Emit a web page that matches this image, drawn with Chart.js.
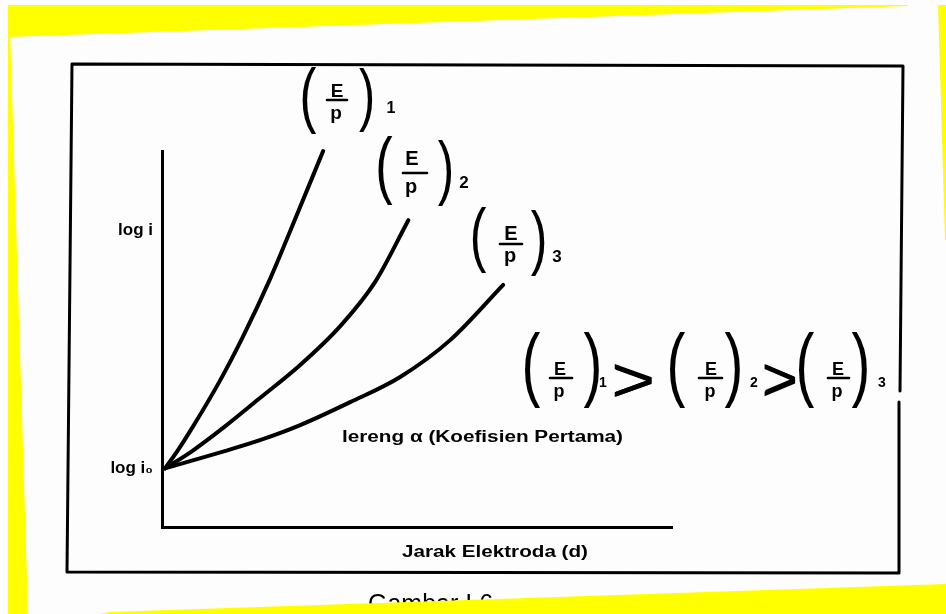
<!DOCTYPE html>
<html><head><meta charset="utf-8">
<script src="https://cdn.jsdelivr.net/npm/chart.js@4.4.1/dist/chart.umd.min.js"></script>
<style>html,body{margin:0;padding:0;background:#fdfdfd;overflow:hidden}canvas{display:block}</style>
</head><body>
<canvas id="c" width="946" height="614"></canvas>
<script>
// ---- data (x = electrode distance, y = log i, arbitrary units 0..100) ----
const curve1X = [0.6, 3.1, 5.7, 11.4, 15.9, 21.2, 25.1, 31.6];
const curve1Y = [15.6, 20.4, 25.9, 39.0, 50.7, 66.0, 78.6, 100];
const curve2X = [0.6, 5.7, 12.3, 19.2, 27.1, 35.0, 41.9, 48.3];
const curve2Y = [15.6, 20.0, 26.7, 34.3, 43.1, 53.5, 65.4, 81.6];
const curve3X = [0.6, 5.7, 12.3, 19.2, 27.1, 36.9, 46.7, 56.5, 66.9];
const curve3Y = [15.6, 17.6, 20.2, 23.1, 27.1, 33.2, 39.9, 49.7, 64.4];
const seriesNames = ['(E/p)1', '(E/p)2', '(E/p)3'];
const seriesSubs = ['1', '2', '3'];
const fracNum = 'E';
const fracDen = 'p';
const yTickValues = [15.6, 79];
const yTickLabels = ['log i\u2080', 'log i'];
const xAxisTitle = 'Jarak Elektroda (d)';
const slopeNote = 'lereng \u03b1 (Koefisien Pertama)';
const captionText = 'Gambar I.6';

const FONT = '"Liberation Sans", Arial, "DejaVu Sans", sans-serif';

function pts(xs, ys) { return xs.map((x, i) => ({ x: x, y: ys[i] })); }

function paren(ctx, ch, cx, top, bottom, sx) {
  ctx.save();
  ctx.textAlign = 'center';
  ctx.textBaseline = 'alphabetic';
  ctx.font = '100px ' + FONT;
  const m = ctx.measureText(ch);
  const asc = m.actualBoundingBoxAscent, desc = m.actualBoundingBoxDescent;
  const size = 100 * (bottom - top) / (asc + desc);
  ctx.font = size + 'px ' + FONT;
  const m2 = ctx.measureText(ch);
  const base = top + m2.actualBoundingBoxAscent;
  ctx.translate(cx, base);
  ctx.scale(sx, 1);
  ctx.fillText(ch, 0, 0);
  ctx.restore();
}
function txt(ctx, t, cx, base, size, weight) {
  ctx.font = (weight || 'bold') + ' ' + size + 'px ' + FONT;
  ctx.textAlign = 'center';
  ctx.textBaseline = 'alphabetic';
  ctx.fillText(t, cx, base);
}
function fitText(ctx, t, x0, x1, yMid, size) {
  ctx.save();
  ctx.textAlign = 'left';
  ctx.textBaseline = 'middle';
  ctx.font = 'bold ' + size + 'px ' + FONT;
  const w = ctx.measureText(t).width;
  ctx.translate(x0, yMid);
  ctx.scale((x1 - x0) / w, 1);
  ctx.fillText(t, 0, 0);
  ctx.restore();
}
function fitBox(ctx, t, x0, y0, x1, y1, font) {
  ctx.save();
  ctx.textAlign = 'left';
  ctx.textBaseline = 'alphabetic';
  ctx.font = font;
  const m = ctx.measureText(t);
  const w = m.actualBoundingBoxLeft + m.actualBoundingBoxRight;
  const h = m.actualBoundingBoxAscent + m.actualBoundingBoxDescent;
  ctx.translate(x0, y0);
  ctx.scale((x1 - x0) / w, (y1 - y0) / h);
  ctx.fillText(t, m.actualBoundingBoxLeft, m.actualBoundingBoxAscent);
  ctx.restore();
}
function bar(ctx, x0, x1, y, w) {
  ctx.beginPath(); ctx.lineWidth = w; ctx.moveTo(x0, y); ctx.lineTo(x1, y); ctx.stroke();
}
// fraction group: parens, E over p, subscript
function fracGroup(ctx, g) {
  paren(ctx, '(', g.lp, g.top, g.bot, 0.7);
  paren(ctx, ')', g.rp, g.top2 || g.top, g.bot2 || g.bot, 0.7);
  txt(ctx, fracNum, g.cx, g.eBase, g.size);
  bar(ctx, g.bx0, g.bx1, g.by, 2.6);
  txt(ctx, fracDen, g.cx - 1, g.pBase, g.size);
  txt(ctx, g.sub, g.sx, g.sBase, g.subSize);
}

const decor = {
  id: 'decor',
  beforeDraw(chart) {
    const ctx = chart.ctx;
    ctx.save();
    ctx.fillStyle = '#fdfdfd';
    ctx.fillRect(0, 0, chart.width, chart.height);
    ctx.restore();
  },
  afterDraw(chart) {
    const ctx = chart.ctx;
    ctx.save();
    ctx.strokeStyle = '#000';
    ctx.fillStyle = '#000';
    ctx.lineCap = 'round';
    ctx.lineJoin = 'round';
    // outer frame of the scanned figure
    ctx.lineWidth = 3;
    ctx.beginPath();
    ctx.moveTo(899, 402); ctx.lineTo(899, 573); ctx.lineTo(67, 572); ctx.lineTo(72, 64);
    ctx.lineTo(903, 66); ctx.lineTo(900, 391);
    ctx.stroke();

    // curve labels
    fracGroup(ctx, { lp: 308, rp: 367, top: 67, bot: 135, top2: 68, bot2: 133, cx: 337, eBase: 97, pBase: 119,
      bx0: 327, bx1: 347, by: 100, size: 19, sub: seriesSubs[0], sx: 391, sBase: 113, subSize: 16 });
    fracGroup(ctx, { lp: 384, rp: 446, top: 136, bot: 206, top2: 140, bot2: 206, cx: 412, eBase: 165, pBase: 193,
      bx0: 403, bx1: 427, by: 173, size: 20, sub: seriesSubs[1], sx: 464, sBase: 188, subSize: 17 });
    fracGroup(ctx, { lp: 478, rp: 539, top: 207, bot: 274, top2: 210, bot2: 277, cx: 511, eBase: 240, pBase: 262,
      bx0: 500, bx1: 522, by: 244, size: 20, sub: seriesSubs[2], sx: 557, sBase: 262, subSize: 17 });

    // inequality (E/p)1 > (E/p)2 > (E/p)3
    const iq = [
      { lp: 531, rp: 593, cx: 560, bx0: 550, bx1: 572 },
      { lp: 676, rp: 734, cx: 711, bx0: 699, bx1: 722 },
      { lp: 805, rp: 861, cx: 838, bx0: 828, bx1: 849 }
    ];
    iq.forEach((q, i) => {
      fracGroup(ctx, { lp: q.lp, rp: q.rp, top: 332, bot: 408, cx: q.cx, eBase: 375, pBase: 397,
        bx0: q.bx0, bx1: q.bx1, by: 378, size: 18, sub: seriesSubs[i], sx: [603, 754, 882][i], sBase: 387, subSize: 14 });
    });
    fitBox(ctx, '>', 613, 363, 653, 397, '40px ' + FONT);
    fitBox(ctx, '>', 763, 363, 796, 396, '40px ' + FONT);
    fitBox(ctx, '>', 614, 364, 652, 396, '40px ' + FONT);
    fitBox(ctx, '>', 764, 364, 795, 395, '40px ' + FONT);

    // slope note and x-axis title
    fitText(ctx, slopeNote, 342, 623, 438, 16);
    fitText(ctx, xAxisTitle, 402, 588, 552, 17);

    // caption (partly hidden by the scan's yellow edge)
    ctx.font = '25px ' + FONT;
    ctx.textAlign = 'left';
    ctx.textBaseline = 'alphabetic';
    ctx.fillText(captionText, 368, 612);

    // yellow scan edges
    ctx.fillStyle = '#ffff00';
    const poly = (p) => { ctx.beginPath(); ctx.moveTo(p[0][0], p[0][1]); p.slice(1).forEach(q => ctx.lineTo(q[0], q[1])); ctx.closePath(); ctx.fill(); };
    poly([[8, 5], [908, 5], [908, 6], [8, 37]]);
    poly([[8, 30], [10, 30], [28, 614], [8, 614]]);
    poly([[938, 5], [946, 5], [946, 240], [945, 240]]);
    poly([[109, 612], [946, 584], [946, 614], [100, 614]]);
    ctx.restore();
  }
};

const lineStyle = { borderColor: '#000', backgroundColor: '#000', borderWidth: 4, pointRadius: 0,
  showLine: true, fill: false, cubicInterpolationMode: 'monotone', clip: false, borderCapStyle: 'round' };

new Chart(document.getElementById('c'), {
  type: 'scatter',
  data: {
    datasets: [
      Object.assign({ label: seriesNames[0], data: pts(curve1X, curve1Y) }, lineStyle),
      Object.assign({ label: seriesNames[1], data: pts(curve2X, curve2Y) }, lineStyle),
      Object.assign({ label: seriesNames[2], data: pts(curve3X, curve3Y) }, lineStyle)
    ]
  },
  options: {
    responsive: false,
    animation: false,
    devicePixelRatio: 1,
    layout: { padding: { left: 0, right: 274, top: 151, bottom: 0 } },
    plugins: { legend: { display: false }, tooltip: { enabled: false } },
    scales: {
      x: {
        type: 'linear', min: 0, max: 100,
        grid: { display: false, drawTicks: false },
        border: { display: true, color: '#000', width: 3 },
        ticks: { display: false },
        afterFit(s) { s.height = 87; }
      },
      y: {
        type: 'linear', min: 0, max: 100,
        grid: { display: false, drawTicks: false },
        border: { display: true, color: '#000', width: 3 },
        afterBuildTicks(s) { s.ticks = yTickValues.map(v => ({ value: v })); },
        ticks: {
          color: '#000', padding: 9,
          font: { family: FONT, size: 17, weight: 'bold' },
          callback: (v) => yTickLabels[yTickValues.indexOf(v)]
        },
        afterFit(s) { s.width = 162; }
      }
    }
  },
  plugins: [decor]
});
</script>
</body></html>
